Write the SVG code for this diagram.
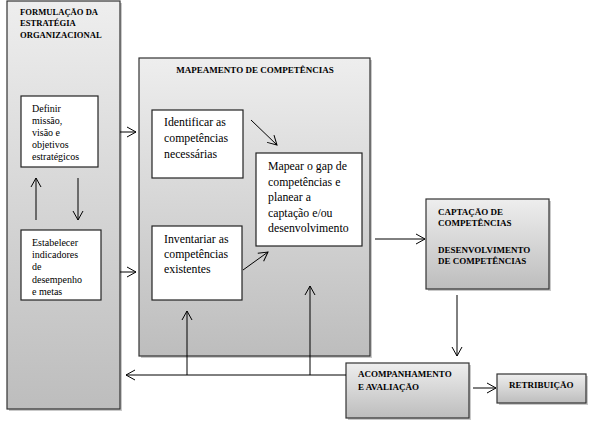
<svg xmlns="http://www.w3.org/2000/svg" width="591" height="424" viewBox="0 0 591 424">
<defs>
<linearGradient id="g" x1="0" y1="0" x2="0" y2="1">
<stop offset="0" stop-color="#eeeeee"/>
<stop offset="1" stop-color="#bdbdbd"/>
</linearGradient>
<marker id="a" markerWidth="12" markerHeight="12" refX="10" refY="6" orient="auto" markerUnits="userSpaceOnUse">
<polyline points="1,1 10,6 1,11" fill="none" stroke="#000" stroke-width="1"/>
</marker>
<style>
.box{fill:url(#g);stroke:#333;stroke-width:1.2}
.sh{fill:#888;opacity:0.45}
.wb{fill:#fff;stroke:#222;stroke-width:1.2}
.b{font-weight:bold;font-size:9px}
.f{font-size:8.6px}
.s{font-size:10px}
.m{font-size:11.8px}
.c line{stroke:#000;stroke-width:1;fill:none}
</style>
</defs>
<g font-family="Liberation Serif, DejaVu Serif, serif" fill="#000">
<g id="formulacao">
<rect class="sh" x="9" y="3" width="113" height="408"/>
<rect class="box" x="7" y="1" width="113" height="408"/>
<text class="b f" x="20" y="15">FORMULAÇÃO DA</text>
<text class="b f" x="20" y="26">ESTRATÉGIA</text>
<text class="b f" x="20" y="38">ORGANIZACIONAL</text>
</g>
<g id="definir">
<rect class="wb" x="21" y="96" width="77" height="71"/>
<text class="s" x="32" y="112">Definir</text>
<text class="s" x="32" y="124">missão,</text>
<text class="s" x="32" y="136">visão e</text>
<text class="s" x="32" y="148">objetivos</text>
<text class="s" x="32" y="160">estratégicos</text>
</g>
<g id="estabelecer">
<rect class="wb" x="21" y="230" width="80" height="70"/>
<text class="s" x="32" y="246">Estabelecer</text>
<text class="s" x="32" y="258">indicadores</text>
<text class="s" x="32" y="270">de</text>
<text class="s" x="32" y="283">desempenho</text>
<text class="s" x="32" y="295">e metas</text>
</g>
<g id="mapeamento">
<rect class="sh" x="141" y="60" width="231" height="298"/>
<rect class="box" x="139" y="58" width="231" height="298"/>
<text class="b" x="255" y="73" text-anchor="middle">MAPEAMENTO DE COMPETÊNCIAS</text>
</g>
<g id="identificar">
<rect class="wb" x="152" y="110" width="91" height="68"/>
<text class="m" x="164" y="126">Identificar as</text>
<text class="m" x="164" y="142">competências</text>
<text class="m" x="164" y="158">necessárias</text>
</g>
<g id="inventariar">
<rect class="wb" x="152" y="226" width="90" height="74"/>
<text class="m" x="164" y="243">Inventariar as</text>
<text class="m" x="164" y="258">competências</text>
<text class="m" x="164" y="273">existentes</text>
</g>
<g id="mapear">
<rect class="wb" x="256" y="153" width="106" height="93"/>
<text class="m" x="268" y="170">Mapear o gap de</text>
<text class="m" x="268" y="186">competências e</text>
<text class="m" x="268" y="201">planear a</text>
<text class="m" x="268" y="217">captação e/ou</text>
<text class="m" x="268" y="232">desenvolvimento</text>
</g>
<g id="captacao">
<rect class="sh" x="428" y="201" width="123" height="90"/>
<rect class="box" x="426" y="199" width="123" height="90"/>
<text class="b" x="438" y="215">CAPTAÇÃO DE</text>
<text class="b" x="438" y="226">COMPETÊNCIAS</text>
<text class="b" x="438" y="253">DESENVOLVIMENTO</text>
<text class="b" x="438" y="264">DE COMPETÊNCIAS</text>
</g>
<g id="acompanhamento">
<rect class="sh" x="348" y="365" width="123" height="55"/>
<rect class="box" x="346" y="363" width="123" height="55"/>
<text class="b" x="358" y="377">ACOMPANHAMENTO</text>
<text class="b" x="358" y="390">E AVALIAÇÃO</text>
</g>
<g id="retribuicao">
<rect class="sh" x="499" y="376" width="89" height="29"/>
<rect class="box" x="497" y="374" width="89" height="29"/>
<text class="b" x="509" y="388">RETRIBUIÇÃO</text>
</g>
</g>
<g id="connectors" class="c">
<line x1="36" y1="220" x2="36" y2="178" marker-end="url(#a)"/>
<line x1="78" y1="178" x2="78" y2="220" marker-end="url(#a)"/>
<line x1="120" y1="132" x2="136" y2="132" marker-end="url(#a)"/>
<line x1="120" y1="272" x2="136" y2="272" marker-end="url(#a)"/>
<line x1="251" y1="120" x2="277" y2="145" marker-end="url(#a)"/>
<line x1="243" y1="270" x2="268" y2="252" marker-end="url(#a)"/>
<line x1="375" y1="239" x2="425" y2="239" marker-end="url(#a)"/>
<line x1="457" y1="295" x2="457" y2="356" marker-end="url(#a)"/>
<line x1="473" y1="388" x2="496" y2="388" marker-end="url(#a)"/>
<line x1="346" y1="375" x2="126" y2="375" marker-end="url(#a)"/>
<line x1="187" y1="375" x2="187" y2="311" marker-end="url(#a)"/>
<line x1="310" y1="375" x2="310" y2="286" marker-end="url(#a)"/>
</g>
</svg>
